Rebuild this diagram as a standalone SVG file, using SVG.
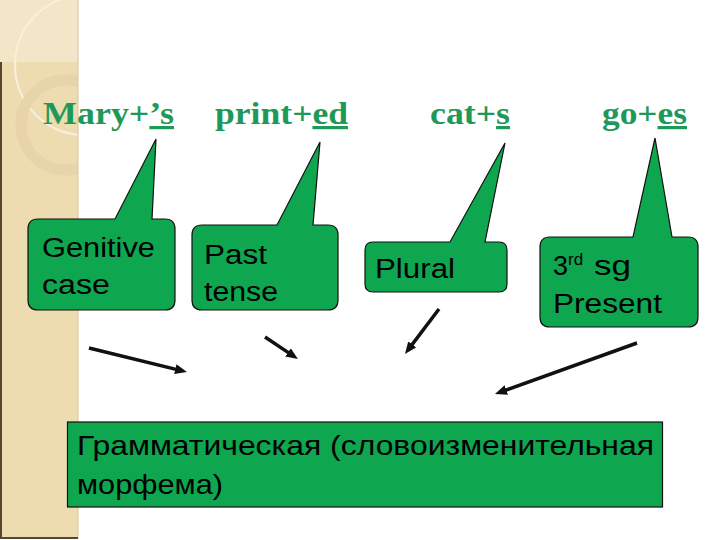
<svg xmlns="http://www.w3.org/2000/svg" width="720" height="540" viewBox="0 0 720 540">
<style>
.head{font-family:"Liberation Serif","Times New Roman",serif;font-weight:bold;font-size:32px;fill:#1E9959}
.u{text-decoration:underline}
.callout{fill:#0FA650;stroke:#111;stroke-width:1.2}
.lbl{font-family:"Liberation Sans",Arial,sans-serif;font-size:27px;fill:#000}
.big{font-family:"Liberation Sans",Arial,sans-serif;font-size:28px;fill:#000}
.arr{stroke:#111;stroke-width:3.5;fill:none;marker-end:url(#ah)}
</style>
<defs>
<marker id="ah" markerUnits="userSpaceOnUse" viewBox="0 0 12 10" markerWidth="12" markerHeight="10" refX="4" refY="5" orient="auto">
<path d="M0,0 L12,5 L0,10 Z" fill="#111"/>
</marker>
<clipPath id="side"><rect x="0" y="0" width="78" height="537"/></clipPath>
</defs>
<rect width="720" height="540" fill="#fff"/>
<g id="sidebar">
<rect x="0" y="0" width="78" height="538" fill="#EEDCB1"/>
<g clip-path="url(#side)">
<rect x="0" y="0" width="78" height="62" fill="#F3E6C8"/>
<circle cx="85" cy="65" r="70" fill="none" stroke="#F8F0DE" stroke-width="2"/>
<circle cx="66" cy="125" r="45" fill="none" stroke="#E7D4AA" stroke-width="11"/>
</g>
<line x1="78" y1="0" x2="78" y2="538" stroke="#D8C49A" stroke-width="1"/>
<line x1="1" y1="62" x2="1" y2="538" stroke="#5A4630" stroke-width="2"/>
<line x1="0" y1="538" x2="78" y2="538" stroke="#5A4630" stroke-width="2"/>
</g>
<g id="heading-mary"><text class="head" x="43" y="124" textLength="131" lengthAdjust="spacingAndGlyphs">Mary+<tspan class="u">’s</tspan></text></g>
<g id="heading-print"><text class="head" x="215" y="124" textLength="133" lengthAdjust="spacingAndGlyphs">print+<tspan class="u">ed</tspan></text></g>
<g id="heading-cat"><text class="head" x="430" y="124" textLength="80" lengthAdjust="spacingAndGlyphs">cat+<tspan class="u">s</tspan></text></g>
<g id="heading-go"><text class="head" x="602" y="124" textLength="85" lengthAdjust="spacingAndGlyphs">go+<tspan class="u">es</tspan></text></g>
<g id="callout-genitive">
<path class="callout" d="M38,219 L115,219 L156,139 L152,219 L165,219 Q175,219 175,229 L175,300 Q175,310 165,310 L38,310 Q28,310 28,300 L28,229 Q28,219 38,219 Z"/>
<text class="lbl" x="42" y="257" textLength="113" lengthAdjust="spacingAndGlyphs">Genitive</text>
<text class="lbl" x="42" y="294" textLength="68" lengthAdjust="spacingAndGlyphs">case</text>
</g>
<g id="callout-past">
<path class="callout" d="M202,225 L277,225 L320,142 L313,225 L328,225 Q338,225 338,235 L338,300 Q338,310 328,310 L202,310 Q192,310 192,300 L192,235 Q192,225 202,225 Z"/>
<text class="lbl" x="204" y="264" textLength="63" lengthAdjust="spacingAndGlyphs">Past</text>
<text class="lbl" x="204" y="301" textLength="74" lengthAdjust="spacingAndGlyphs">tense</text>
</g>
<g id="callout-plural">
<path class="callout" d="M373,242 L450,242 L505,143 L485,242 L499,242 Q507,242 507,250 L507,284 Q507,292 499,292 L373,292 Q365,292 365,284 L365,250 Q365,242 373,242 Z"/>
<text class="lbl" x="375" y="278" textLength="80" lengthAdjust="spacingAndGlyphs">Plural</text>
</g>
<g id="callout-3rd">
<path class="callout" d="M550,237 L633,237 L655,138 L672,237 L688,237 Q698,237 698,247 L698,317 Q698,327 688,327 L550,327 Q540,327 540,317 L540,247 Q540,237 550,237 Z"/>
<text class="lbl" x="553" y="275">3</text>
<text class="lbl" x="568" y="265" style="font-size:17px">rd</text>
<text class="lbl" x="594" y="275" textLength="37" lengthAdjust="spacingAndGlyphs">sg</text>
<text class="lbl" x="553" y="313" textLength="109" lengthAdjust="spacingAndGlyphs">Present</text>
</g>
<g id="connectors">
<line class="arr" x1="89" y1="348" x2="179.2" y2="370.1"/>
<line class="arr" x1="265" y1="337" x2="291.3" y2="354.6"/>
<line class="arr" x1="439" y1="309" x2="409.8" y2="347.6"/>
<line class="arr" x1="637" y1="343" x2="502.5" y2="391.3"/>
</g>
<g id="morpheme-box">
<rect x="67.5" y="422" width="595" height="85" fill="#0FA650" stroke="#111" stroke-width="1.2"/>
<text class="big" x="77" y="455" textLength="577" lengthAdjust="spacingAndGlyphs">Грамматическая (словоизменительная</text>
<text class="big" x="77" y="494" textLength="146" lengthAdjust="spacingAndGlyphs">морфема)</text>
</g>
</svg>
